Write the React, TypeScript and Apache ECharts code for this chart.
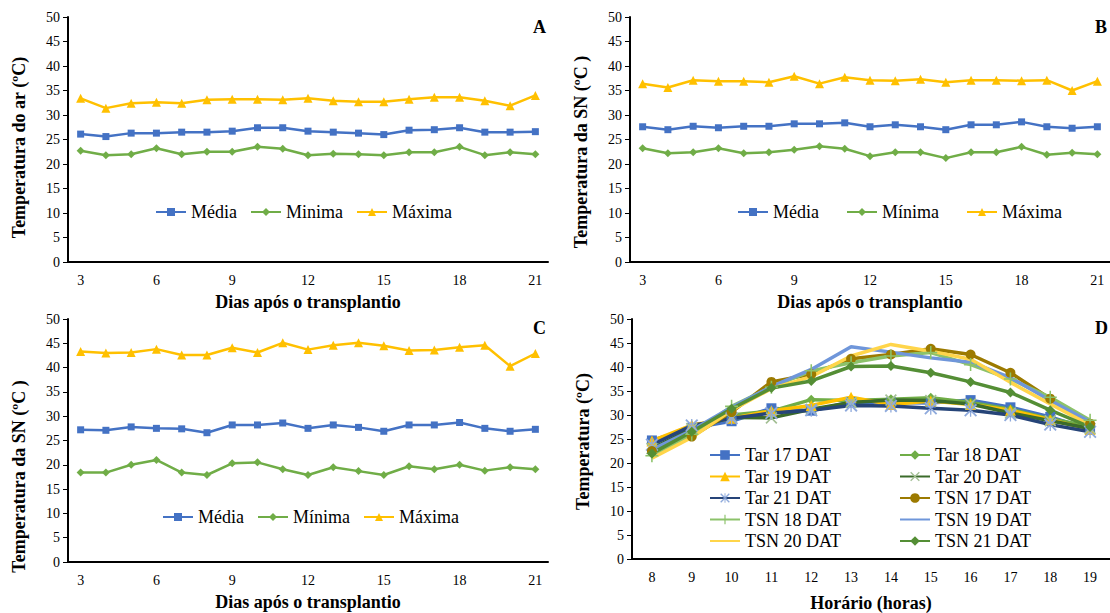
import React, { useEffect, useRef } from "react";
import * as echarts from "echarts";

const days = ["3","4","5","6","7","8","9","10","11","12","13","14","15","16","17","18","19","20","21"];
const hours = ["8","9","10","11","12","13","14","15","16","17","18","19"];

// Panel A - air temperature
const mediaA = [26.1,25.6,26.3,26.3,26.5,26.5,26.7,27.4,27.4,26.7,26.5,26.3,26.0,26.9,27.0,27.4,26.5,26.5,26.6];
const minimaA = [22.7,21.8,22.0,23.2,22.0,22.5,22.5,23.5,23.1,21.8,22.1,22.0,21.8,22.4,22.4,23.5,21.8,22.4,22.0];
const maximaA = [33.4,31.4,32.4,32.6,32.4,33.1,33.2,33.2,33.1,33.4,32.9,32.7,32.7,33.2,33.6,33.6,32.9,31.9,34.0];

// Panel B - SN temperature
const mediaB = [27.6,27.0,27.7,27.4,27.7,27.7,28.2,28.2,28.4,27.6,28.0,27.6,27.0,28.0,28.0,28.6,27.6,27.3,27.6];
const minimaB = [23.2,22.2,22.4,23.2,22.2,22.4,22.9,23.6,23.1,21.6,22.4,22.4,21.2,22.4,22.4,23.5,21.9,22.3,22.0];
const maximaB = [36.4,35.6,37.1,36.9,36.9,36.7,37.9,36.4,37.7,37.1,37.0,37.3,36.7,37.1,37.1,37.0,37.1,35.0,36.9];

// Panel C - SN temperature
const mediaC = [27.2,27.1,27.8,27.5,27.4,26.6,28.2,28.2,28.6,27.5,28.2,27.7,26.9,28.2,28.2,28.7,27.5,26.9,27.3];
const minimaC = [18.4,18.4,20.0,21.0,18.4,17.9,20.3,20.5,19.1,17.9,19.5,18.7,17.9,19.7,19.1,20.0,18.8,19.5,19.1];
const maximaC = [43.3,43.0,43.1,43.8,42.6,42.6,44.1,43.1,45.1,43.7,44.6,45.1,44.5,43.5,43.6,44.2,44.6,40.3,42.9];

// Panel D - hourly
const tar17 = [24.7,27.3,28.7,31.4,30.9,32.7,32.6,32.5,33.1,31.6,29.6,27.0];
const tar18 = [22.0,26.6,30.0,30.8,33.2,33.0,33.3,33.6,32.6,31.2,29.2,27.6];
const tar19 = [24.6,27.9,29.3,30.9,32.0,33.7,32.2,32.9,32.2,31.0,29.0,27.0];
const tar20 = [23.0,27.2,29.5,29.4,31.2,32.6,33.1,33.0,32.3,30.4,28.8,27.2];
const tar21 = [23.8,27.8,29.3,30.4,31.0,32.0,31.9,31.4,31.0,30.0,28.0,26.5];
const tsn17 = [22.5,25.5,30.6,36.9,38.5,41.7,42.6,43.8,42.6,38.8,33.4,28.2];
const tsn18 = [21.5,26.0,31.8,35.8,39.2,40.9,42.3,43.0,40.5,37.5,33.7,28.9];
const tsn19 = [22.8,26.8,31.6,35.9,39.5,44.2,43.1,41.9,41.0,37.8,33.0,28.6];
const tsn20 = [21.0,25.3,31.0,35.5,38.0,42.3,44.7,43.3,41.6,36.8,32.3,27.9];
const tsn21 = [22.0,26.5,31.3,35.6,37.1,40.1,40.2,38.8,36.9,34.7,31.0,27.5];

const serif = "serif";
const BLUE = "#4472C4";
const GREEN = "#70AD47";
const GOLD = "#FFC000";
const CLEAR = "rgba(0,0,0,0)";

const X_PATH = "path://M0,1 L1,0 L10,9 L9,10 Z M9,0 L10,1 L1,10 L0,9 Z";
const PLUS_PATH = "path://M4.4,0 L5.6,0 L5.6,10 L4.4,10 Z M0,4.4 L10,4.4 L10,5.6 L0,5.6 Z";
const AST_PATH = "path://M4.5,0 L5.5,0 L5.5,10 L4.5,10 Z M0,1 L1,0 L10,9 L9,10 Z M10,1 L9,0 L0,9 L1,10 Z";

function makeY(gridIndex: number, name: string, shift: number) {
  return {
    type: "value",
    gridIndex,
    min: 0,
    max: 50,
    interval: 5,
    name,
    nameLocation: "middle",
    nameGap: 40,
    nameRotate: 90,
    nameTextStyle: { fontFamily: serif, fontSize: 18, fontWeight: "bold", color: "#000", padding: [0, shift, 0, 0] },
    axisLine: { show: true, lineStyle: { color: "#000", width: 2 } },
    axisTick: { show: true, length: 5, lineStyle: { color: "#000", width: 1 } },
    axisLabel: { fontFamily: serif, fontSize: 14, color: "#000", margin: 8 },
    splitLine: { show: false },
  };
}

function makeX(gridIndex: number, data: string[], name: string, interval: number, gap: number) {
  return {
    type: "category",
    gridIndex,
    data,
    boundaryGap: true,
    name,
    nameLocation: "middle",
    nameGap: gap,
    nameTextStyle: { fontFamily: serif, fontSize: 18, fontWeight: "bold", color: "#000" },
    axisLine: { show: true, lineStyle: { color: "#000", width: 2 } },
    axisTick: { show: false },
    axisLabel: { fontFamily: serif, fontSize: 14, color: "#000", margin: 11, interval },
    splitLine: { show: false },
  };
}

function dailySeries(idx: number, minName: string, media: number[], minima: number[], maxima: number[]) {
  const base = { type: "line", xAxisIndex: idx, yAxisIndex: idx };
  return [
    { ...base, name: "Média", data: media, color: BLUE, symbol: "rect", symbolSize: 7, lineStyle: { width: 2.5, color: BLUE }, itemStyle: { color: BLUE } },
    { ...base, name: minName, data: minima, color: GREEN, symbol: "diamond", symbolSize: 8, lineStyle: { width: 2.5, color: GREEN }, itemStyle: { color: GREEN } },
    { ...base, name: "Máxima", data: maxima, color: GOLD, symbol: "triangle", symbolSize: 9, lineStyle: { width: 2.5, color: GOLD }, itemStyle: { color: GOLD } },
  ];
}

function hourSeries(name: string, data: number[], line: string, symbol: string | null, size: number, mark: string) {
  return {
    type: "line",
    name,
    data,
    xAxisIndex: 3,
    yAxisIndex: 3,
    color: line,
    symbol: symbol || "circle",
    symbolSize: size,
    showSymbol: symbol !== null,
    lineStyle: { width: 3.5, color: line },
    itemStyle: { color: symbol === null ? CLEAR : mark },
  };
}

function legendCommon(left: number, top: number, data: string[], gap: number) {
  return {
    left,
    top,
    padding: 0,
    itemGap: gap,
    itemWidth: 30,
    itemHeight: 10,
    data,
    selectedMode: false,
    textStyle: { fontFamily: serif, fontSize: 18, color: "#000" },
  };
}

export default function App() {
  const ref = useRef<HTMLDivElement>(null);
  useEffect(() => {
    if (!ref.current) return;
    const chart = echarts.init(ref.current, undefined, { renderer: "svg" });
    const option = {
      animation: false,
      backgroundColor: "#ffffff",
      textStyle: { fontFamily: serif },
      grid: [
        { left: 68, top: 17, width: 480, height: 245 },
        { left: 630, top: 17, width: 486, height: 245 },
        { left: 68, top: 319, width: 480, height: 243 },
        { left: 632, top: 319, width: 495, height: 243 },
      ],
      xAxis: [
        makeX(0, days, "Dias após o transplantio", 2, 31),
        makeX(1, days, "Dias após o transplantio", 2, 31),
        makeX(2, days, "Dias após o transplantio", 2, 31),
        makeX(3, hours, "Horário (horas)", 0, 35),
      ],
      yAxis: [
        makeY(0, "Temperatura do ar (ºC)", 16),
        makeY(1, "Temperatura da SN (ºC )", 25),
        makeY(2, "Temperatura da SN (ºC )", 72),
        makeY(3, "Temperatura (ºC)", 5),
      ],
      legend: [
        legendCommon(155, 203, ["Média", "Minima", "Máxima"], 13),
        legendCommon(737, 203, ["Média", "Mínima", "Máxima"], 27),
        legendCommon(162, 508, ["Média", "Mínima", "Máxima"], 13),
        { ...legendCommon(709, 446, ["Tar 17 DAT", "Tar 19 DAT", "Tar 21 DAT", "TSN 18 DAT", "TSN 20 DAT"], 3.5), orient: "vertical", itemHeight: 12 },
        { ...legendCommon(899, 446, ["Tar 18 DAT", "Tar 20 DAT", "TSN 17 DAT", "TSN 19 DAT", "TSN 21 DAT"], 3.5), orient: "vertical", itemHeight: 12 },
      ],
      graphic: [
        { type: "text", left: 533, top: 18, style: { text: "A", font: `bold 18px ${serif}`, fill: "#000" } },
        { type: "text", left: 1095, top: 18, style: { text: "B", font: `bold 18px ${serif}`, fill: "#000" } },
        { type: "text", left: 533, top: 319, style: { text: "C", font: `bold 18px ${serif}`, fill: "#000" } },
        { type: "text", left: 1095, top: 319, style: { text: "D", font: `bold 18px ${serif}`, fill: "#000" } },
      ],
      series: [
        ...dailySeries(0, "Minima", mediaA, minimaA, maximaA),
        ...dailySeries(1, "Mínima", mediaB, minimaB, maximaB),
        ...dailySeries(2, "Mínima", mediaC, minimaC, maximaC),
        hourSeries("Tar 17 DAT", tar17, BLUE, "rect", 10, BLUE),
        hourSeries("Tar 18 DAT", tar18, GREEN, "diamond", 10, GREEN),
        hourSeries("Tar 19 DAT", tar19, GOLD, "triangle", 11, GOLD),
        hourSeries("Tar 20 DAT", tar20, "#3B6B2A", X_PATH, 12, "#A3BF94"),
        hourSeries("Tar 21 DAT", tar21, "#264478", AST_PATH, 13, "#8FAADC"),
        hourSeries("TSN 17 DAT", tsn17, "#9C7A00", "circle", 10, "#9C7A00"),
        hourSeries("TSN 18 DAT", tsn18, "#8CC26A", PLUS_PATH, 13, "#8CC26A"),
        hourSeries("TSN 19 DAT", tsn19, "#6F96DA", null, 0, "#6F96DA"),
        hourSeries("TSN 20 DAT", tsn20, "#FFD54A", null, 0, "#FFD54A"),
        hourSeries("TSN 21 DAT", tsn21, "#548E35", "diamond", 10, "#548E35"),
      ],
    };
    chart.setOption(option as any);
    return () => chart.dispose();
  }, []);
  return (
    <div
      ref={ref}
      style={{ position: "fixed", left: 0, top: 0, width: 1110, height: 613, background: "#fff" }}
    />
  );
}
